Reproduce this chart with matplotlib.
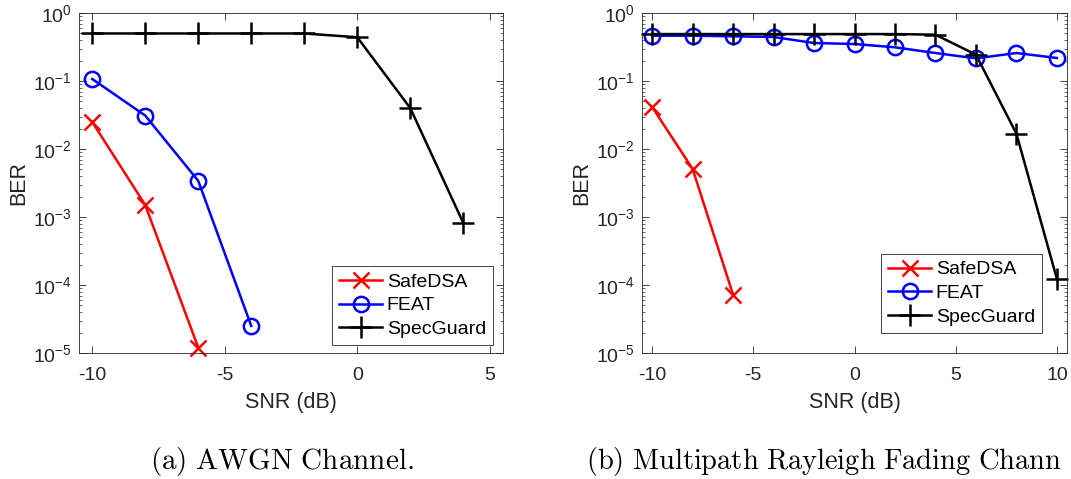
import numpy as np
import matplotlib
matplotlib.use("Agg")
import matplotlib.pyplot as plt
from matplotlib.ticker import LogLocator, FixedLocator

plt.rcParams['font.family'] = ['Liberation Sans', 'DejaVu Sans']
plt.rcParams['mathtext.fontset'] = 'custom'
plt.rcParams['mathtext.rm'] = 'Liberation Sans'
plt.rcParams['mathtext.it'] = 'Liberation Sans:italic'
plt.rcParams['axes.unicode_minus'] = False

# ---- data: AWGN channel ----
snr_a = [-10, -8, -6, -4, -2, 0, 2, 4]
safedsa_a_snr = [-10, -8, -6]
safedsa_a = [0.025, 1.5e-3, 1.2e-5]
feat_a_snr = [-10, -8, -6, -4]
feat_a = [0.107, 0.031, 3.4e-3, 2.5e-5]
specguard_a = [0.5, 0.5, 0.5, 0.5, 0.5, 0.44, 0.040, 8.2e-4]

# ---- data: Multipath Rayleigh fading ----
snr_b = [-10, -8, -6, -4, -2, 0, 2, 4, 6, 8, 10]
safedsa_b_snr = [-10, -8, -6]
safedsa_b = [0.0415, 5.1e-3, 7.2e-5]
feat_b = [0.464, 0.464, 0.454, 0.444, 0.362, 0.35, 0.313, 0.258, 0.215, 0.258, 0.218]
specguard_b = [0.49, 0.49, 0.49, 0.49, 0.49, 0.49, 0.49, 0.48, 0.244, 0.0168, 1.23e-4]

labels = ['SafeDSA', 'FEAT', 'SpecGuard']
xticks_a = [-10, -5, 0, 5]
xticks_b = [-10, -5, 0, 5, 10]
captions = [r"$\mathrm{(a)\ AWGN\ Channel.}$",
            r"$\mathrm{(b)\ Multipath\ Rayleigh\ Fading\ Chann}$"]

fig = plt.figure(figsize=(10.71, 4.79), dpi=100)
ax1 = fig.add_axes([79/1071, 126/479, 424/1071, 340/479])
ax2 = fig.add_axes([642/1071, 126/479, 425/1071, 340/479])

axcol = '#262626'
lw = 1.8
ms = 11

def style(ax, xlim, xticks, leg_anchor):
    ax.set_yscale('log')
    ax.set_ylim(1e-5, 1)
    ax.set_xlim(*xlim)
    ax.xaxis.set_major_locator(FixedLocator(xticks))
    ax.yaxis.set_major_locator(LogLocator(base=10, numticks=10))
    ax.yaxis.set_minor_locator(LogLocator(base=10, subs=np.arange(2, 10), numticks=20))
    ax.tick_params(which='both', direction='in', top=True, right=True,
                   colors=axcol, labelsize=14, labelcolor=axcol)
    ax.tick_params(which='major', length=5, width=0.6)
    ax.tick_params(which='minor', length=2.5, width=0.5)
    ax.tick_params(axis='x', pad=10)
    ax.tick_params(axis='y', pad=5)
    for s in ax.spines.values():
        s.set_color(axcol)
        s.set_linewidth(0.6)
    ax.set_xlabel('SNR (dB)', fontsize=15.5, color=axcol, labelpad=6)
    ax.set_ylabel('BER', fontsize=15.5, color=axcol, labelpad=3)
    leg = ax.legend(loc='lower right', bbox_to_anchor=leg_anchor, fontsize=14,
                    fancybox=False, framealpha=1, edgecolor=axcol,
                    handlelength=2.2, handletextpad=0.25, borderpad=0.35,
                    labelspacing=0.32, borderaxespad=0)
    leg.get_frame().set_linewidth(0.6)

ax1.plot(safedsa_a_snr, safedsa_a, color='red', marker='x', ms=ms, mew=lw, lw=lw, label=labels[0], clip_on=False)
ax1.plot(feat_a_snr, feat_a, color='blue', marker='o', ms=ms, mew=lw, lw=lw, mfc='none', label=labels[1], clip_on=False)
ax1.plot(snr_a, specguard_a, color='black', marker='+', ms=ms*1.5, mew=lw, lw=lw, label=labels[2], clip_on=False)
style(ax1, (-10.5, 5.5), xticks_a, (0.976, 0.0235))

ax2.plot(safedsa_b_snr, safedsa_b, color='red', marker='x', ms=ms, mew=lw, lw=lw, label=labels[0], clip_on=False)
ax2.plot(snr_b, feat_b, color='blue', marker='o', ms=ms, mew=lw, lw=lw, mfc='none', label=labels[1], clip_on=False)
ax2.plot(snr_b, specguard_b, color='black', marker='+', ms=ms*1.5, mew=lw, lw=lw, label=labels[2], clip_on=False)
style(ax2, (-10.5, 10.5), xticks_b, (0.941, 0.059))

fig.text(150/1071, 17/479, captions[0], fontsize=21, math_fontfamily='cm', ha='left', va='center')
fig.text(586/1071, 17/479, captions[1], fontsize=20.5, math_fontfamily='cm', ha='left', va='center')

fig.savefig('out.png', dpi=100)
